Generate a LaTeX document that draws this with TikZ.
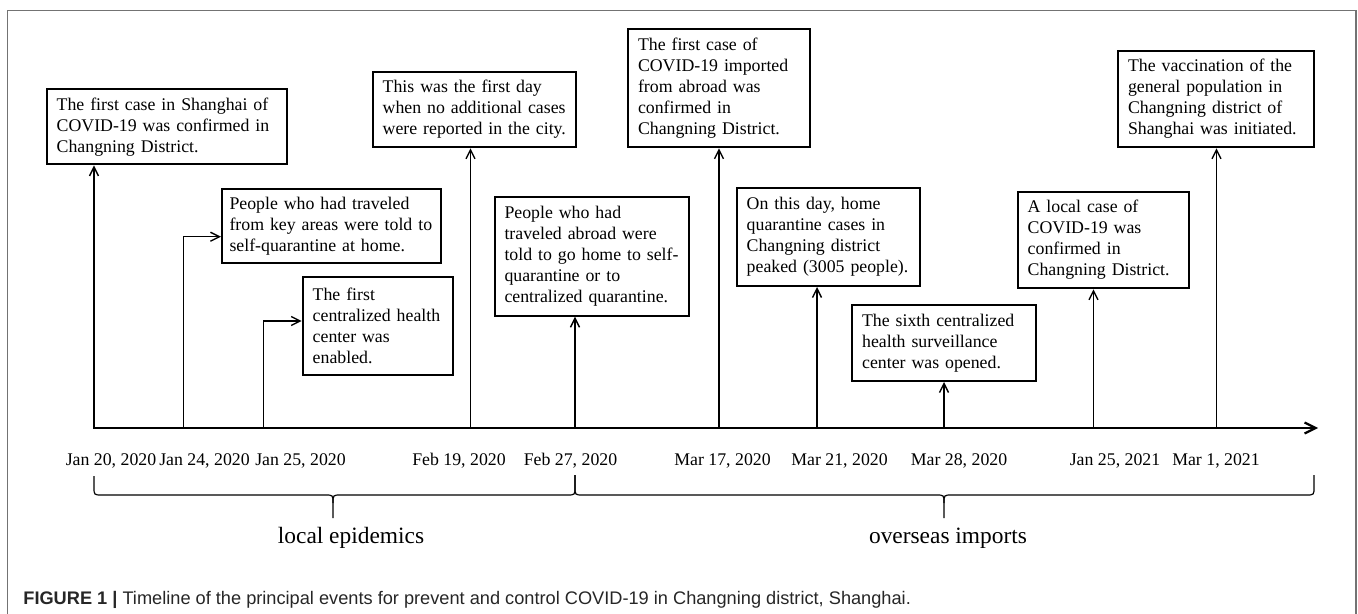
\documentclass[tikz,border=0pt]{standalone}
\usepackage{fontspec}
\setmainfont{Liberation Serif}
\newfontfamily\capfont{Liberation Sans}
\usetikzlibrary{arrows.meta}
\usetikzlibrary{positioning}
\tikzstyle{event} = [rectangle, draw=black, line width=1pt, align=left, inner xsep=5pt, inner ysep=0pt, font=\fontsize{8.9}{10.5}\selectfont]
\tikzstyle{date} = [anchor=base, inner sep=0pt, font=\fontsize{8.9}{10.5}\selectfont]
\tikzstyle{period} = [anchor=base, inner sep=0pt, font=\fontsize{11.7}{14}\selectfont]
\tikzstyle{arrow} = [line width=0.7pt, -{Straight Barb[length=4.5pt,width=4.5pt]}]
\tikzstyle{axis} = [line width=1.1pt, -{Straight Barb[length=5.5pt,width=5.5pt]}]
\tikzstyle{brace} = [line width=0.6pt]
\tikzstyle{frame} = [line width=0.8pt, draw=black!55]

\begin{document}
\begin{tikzpicture}[x=0.5pt, y=-0.5pt]
	\useasboundingbox (0,0) rectangle (1358,614);
	\draw [frame] (7.5,614) -- (7.5,10.7) -- (1356,10.7) -- (1356,614);

	\node (first_case) [event, text width=110pt, minimum height=37.7pt] at (166.7,126.7) {The first case in Shanghai of\\COVID-19 was confirmed in\\Changning District.};
	\node (key_areas) [event, text width=102pt, inner xsep=3.75pt, minimum height=37.2pt] at (331.5,226.2) {People who had traveled\\from key areas were told to\\self-quarantine at home.};
	\node (health_center) [event, text width=65.2pt, minimum height=49pt] at (377.9,326) {The first\\centralized health\\center was\\enabled.};
	\node (no_new_cases) [event, text width=91.7pt, minimum height=37.8pt] at (474.4,109.5) {This was the first day\\when no additional cases\\were reported in the city.};
	\node (abroad_quarantine) [event, text width=87.3pt, minimum height=59.5pt] at (591.8,256.2) {People who had\\traveled abroad were\\told to go home to self-\\quarantine or to\\centralized quarantine.};
	\node (first_imported) [event, text width=81pt, minimum height=59.3pt] at (719,88) {The first case of\\COVID-19 imported\\from abroad was\\confirmed in\\Changning District.};
	\node (home_peak) [event, text width=81.7pt, minimum height=49pt] at (828.4,237) {On this day, home\\quarantine cases in\\Changning district\\peaked (3005 people).};
	\node (sixth_center) [event, text width=81.8pt, minimum height=38pt] at (943.9,343) {The sixth centralized\\health surveillance\\center was opened.};
	\node (local_case) [event, text width=75.7pt, minimum height=48.3pt] at (1103.4,240) {A local case of\\COVID-19 was\\confirmed in\\Changning District.};
	\node (vaccination) [event, text width=88pt, minimum height=48.3pt] at (1216,99) {The vaccination of the\\general population in\\Changning district of\\Shanghai was initiated.};

	\coordinate (axis_start) at (93,428);
	\coordinate (axis_end) at (1318,428);
	\coordinate (jan20) at (94,428);
	\coordinate (jan24) at (183.5,428);
	\coordinate (jan25) at (263.5,428);
	\coordinate (feb19) at (470.5,428);
	\coordinate (feb27) at (575,428);
	\coordinate (mar17) at (719,428);
	\coordinate (mar21) at (817,428);
	\coordinate (mar28) at (944,428);
	\coordinate (jan25_2021) at (1093.5,428);
	\coordinate (mar1_2021) at (1216.5,428);

	\node (date_jan20) [date] at (111,465) {Jan 20, 2020};
	\node (date_jan24) [date] at (204.5,465) {Jan 24, 2020};
	\node (date_jan25) [date] at (300.5,465) {Jan 25, 2020};
	\node (date_feb19) [date] at (459,465) {Feb 19, 2020};
	\node (date_feb27) [date] at (570.5,465) {Feb 27, 2020};
	\node (date_mar17) [date] at (722.5,465) {Mar 17, 2020};
	\node (date_mar21) [date] at (839.5,465) {Mar 21, 2020};
	\node (date_mar28) [date] at (959,465) {Mar 28, 2020};
	\node (date_jan25_2021) [date] at (1115,465) {Jan 25, 2021};
	\node (date_mar1_2021) [date] at (1216,465) {Mar 1, 2021};

	\draw [axis] (axis_start) -- (axis_end);

	\draw [arrow] (jan20) -- (jan20 |- first_case.south);
	\draw [arrow] (jan24) |- ([yshift=-5.25pt]key_areas.west);
	\draw [arrow] (jan25) |- ([yshift=2.5pt]health_center.west);
	\draw [arrow] (feb19) -- (feb19 |- no_new_cases.south);
	\draw [arrow] (feb27) -- (feb27 |- abroad_quarantine.south);
	\draw [arrow] (mar17) -- (mar17 |- first_imported.south);
	\draw [arrow] (mar21) -- (mar21 |- home_peak.south);
	\draw [arrow] (mar28) -- (mar28 |- sixth_center.south);
	\draw [arrow] (jan25_2021) -- (jan25_2021 |- local_case.south);
	\draw [arrow] (mar1_2021) -- (mar1_2021 |- vaccination.south);

	\draw [brace] (94,476) -- (94,487) .. controls (94,495) .. (102,495) -- (325,495) .. controls (333,495) .. (333,503) -- (333,518);
	\draw [brace] (333,503) .. controls (333,495) .. (341,495) -- (567,495) .. controls (575,495) .. (575,487) -- (575,475);
	\draw [brace] (575,475) -- (575,487) .. controls (575,495) .. (583,495) -- (936,495) .. controls (944,495) .. (944,503) -- (944,518);
	\draw [brace] (944,503) .. controls (944,495) .. (952,495) -- (1306,495) .. controls (1314,495) .. (1314,487) -- (1314,475);

	\node (local_label) [period] at (351,543) {local epidemics};
	\node (overseas_label) [period] at (948,543) {overseas imports};

	\node (caption) [anchor=base west, inner sep=0pt, text=black!85, font=\capfont\fontsize{9.1}{11}\selectfont] at (23,604) {\textbf{FIGURE 1 |} Timeline of the principal events for prevent and control COVID-19 in Changning district, Shanghai.};
\end{tikzpicture}
\end{document}
